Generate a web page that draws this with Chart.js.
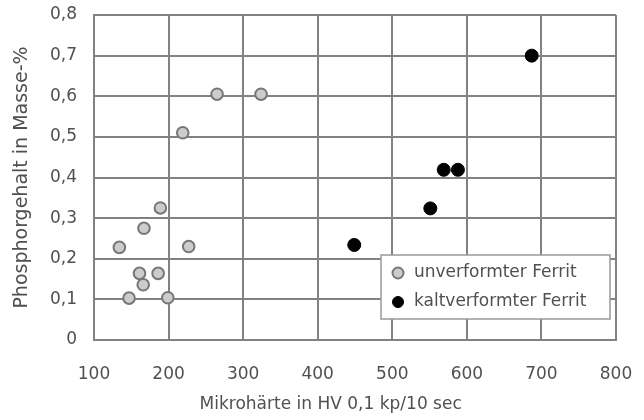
<!DOCTYPE html>
<html>
<head>
<meta charset="utf-8">
<script src="https://cdn.jsdelivr.net/npm/chart.js@4/dist/chart.umd.min.js"></script>
<style>
  html, body { margin: 0; padding: 0; background: #fff; }
  #wrap { width: 644px; height: 420px; }
</style>
</head>
<body>
<div id="wrap"><canvas id="phosChart"></canvas></div>
<script>
// unverformter Ferrit
const undeformedHV = [265, 324, 219, 189, 167, 134, 227, 161, 186, 166, 147, 199];
const undeformedP  = [0.605, 0.605, 0.51, 0.325, 0.275, 0.228, 0.23, 0.164, 0.164, 0.136, 0.103, 0.104];
// kaltverformter Ferrit
const coldHV = [687, 569, 588, 551, 449];
const coldP  = [0.70, 0.419, 0.419, 0.324, 0.234];

const seriesNames = ['unverformter Ferrit', 'kaltverformter Ferrit'];
const xTitle = 'Mikrohärte in HV 0,1 kp/10 sec';
const yTitle = 'Phosphorgehalt in Masse-%';

const toPoints = (xs, ys) => xs.map((x, i) => ({ x: x, y: ys[i] }));
const fontFamily = '"DejaVu Sans", "Liberation Sans", Arial, sans-serif';
const textColor = '#505050';
const gridColor = '#828282';

// legend drawn inside the plot, bottom right
const insideLegend = {
  id: 'insideLegend',
  afterDraw(chart) {
    const ctx = chart.ctx;
    const area = chart.chartArea;
    const w = 229, h = 64;
    const x0 = area.right - 6 - w;
    const y0 = area.bottom - 21 - h;
    ctx.save();
    ctx.fillStyle = '#fff';
    ctx.fillRect(x0, y0, w, h);
    ctx.strokeStyle = '#999';
    ctx.lineWidth = 1.5;
    ctx.strokeRect(x0, y0, w, h);
    ctx.font = '17px ' + fontFamily;
    ctx.textBaseline = 'middle';
    chart.data.datasets.forEach((ds, i) => {
      const cy = y0 + 18 + i * 29;
      ctx.beginPath();
      ctx.arc(x0 + 17, cy, 5.5, 0, Math.PI * 2);
      ctx.fillStyle = ds.backgroundColor;
      ctx.fill();
      ctx.lineWidth = ds.borderWidth;
      ctx.strokeStyle = ds.borderColor;
      ctx.stroke();
      ctx.fillStyle = textColor;
      ctx.fillText(ds.label, x0 + 33, cy);
    });
    ctx.restore();
  }
};

new Chart(document.getElementById('phosChart'), {
  type: 'scatter',
  data: {
    datasets: [{
      label: seriesNames[0],
      data: toPoints(undeformedHV, undeformedP),
      backgroundColor: '#cccccc',
      borderColor: '#777777',
      borderWidth: 2,
      pointRadius: 5.8,
      pointHoverRadius: 5.8
    }, {
      label: seriesNames[1],
      data: toPoints(coldHV, coldP),
      backgroundColor: '#000',
      borderColor: '#000',
      borderWidth: 1,
      pointRadius: 6.5,
      pointHoverRadius: 6.5
    }]
  },
  options: {
    responsive: true,
    maintainAspectRatio: false,
    animation: false,
    layout: {
      padding: { top: 15, right: 28, left: 0, bottom: 0 }
    },
    plugins: {
      legend: { display: false },
      tooltip: { enabled: false }
    },
    scales: {
      x: {
        type: 'linear',
        min: 100,
        max: 800,
        afterFit(scale) {
          scale.height = 80;
          scale.paddingLeft = 0;
          scale.paddingRight = 0;
        },
        ticks: {
          stepSize: 100,
          padding: 24,
          color: textColor,
          font: { family: fontFamily, size: 17 }
        },
        grid: { color: gridColor, lineWidth: 2, drawTicks: false },
        border: { color: gridColor, width: 2 },
        title: {
          display: true,
          // trailing spaces nudge the centred title left, like the original
          text: xTitle + '\u00A0'.repeat(9),
          color: textColor,
          font: { family: fontFamily, size: 17 },
          padding: { top: 0, bottom: 5 }
        }
      },
      y: {
        min: 0,
        max: 0.8,
        afterFit(scale) {
          scale.width = 94;
          scale.paddingTop = 0;
          scale.paddingBottom = 0;
        },
        ticks: {
          stepSize: 0.1,
          padding: 17,
          color: textColor,
          font: { family: fontFamily, size: 17 },
          callback: (v) => String(Math.round(v * 10) / 10).replace('.', ',')
        },
        grid: { color: gridColor, lineWidth: 2, drawTicks: false },
        border: { color: gridColor, width: 2 },
        title: {
          display: true,
          text: yTitle,
          color: textColor,
          font: { family: fontFamily, size: 19 },
          padding: { top: 11, bottom: 0 }
        }
      }
    }
  },
  plugins: [insideLegend]
});
</script>
</body>
</html>
